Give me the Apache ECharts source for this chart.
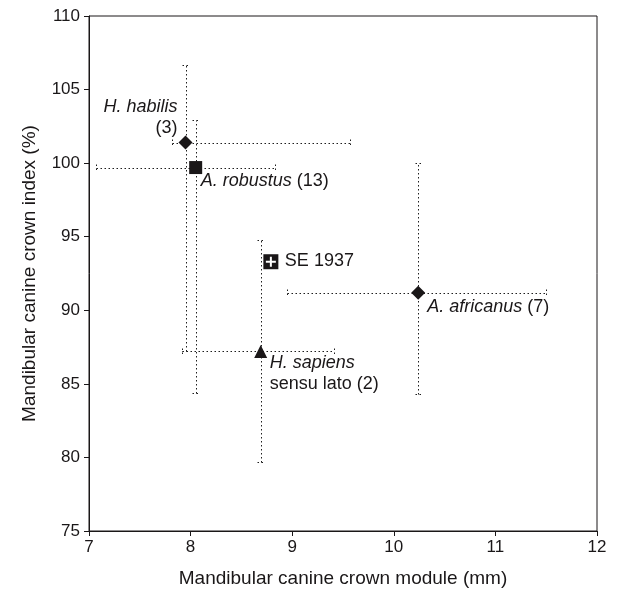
<!DOCTYPE html>
<html>
<head>
<meta charset="utf-8">
<script src="https://cdn.jsdelivr.net/npm/echarts@6/dist/echarts.min.js"></script>
<style>
  html, body { margin: 0; padding: 0; background: #fff; }
  #chart { width: 642px; height: 594px; }
</style>
</head>
<body>
<div id="chart"></div>
<script>
// Mandibular canine crown module vs crown index, per taxon:
// mean point with min–max ranges on both axes.
const taxa        = ['H. habilis', 'A. robustus', 'H. sapiens', 'A. africanus'];
const taxaNote    = ['', '', 'sensu lato ', ''];
const sampleSize  = [3, 13, 2, 7];
const moduleMean  = [7.95, 8.05, 8.69, 10.24];
const moduleMin   = [7.82, 7.07, 7.92, 8.95];
const moduleMax   = [9.57, 8.83, 9.41, 11.50];
const indexMean   = [101.4, 99.7, 87.2, 91.2];
const indexMin    = [87.2, 84.4, 79.7, 84.3];
const indexMax    = [106.7, 102.9, 94.8, 100.0];

// Specimen SE 1937
const specimenName   = 'SE 1937';
const specimenModule = [8.79];
const specimenIndex  = [93.3];

// Axis ticks
const xTicks = { min: 7, max: 12, step: 1 };
const yTicks = { min: 75, max: 110, step: 5 };

const INK = '#1a1718';
const FONT = '"Liberation Sans", Arial, sans-serif';

const symbols = ['diamond', 'rect', 'triangle', 'diamond'];
const symbolSizes = [14, 13, 13, 14];

// label placement relative to each mark
const labelPlace = [
  { align: 'right', offset: [-8, -25], fmt: i => `{i|${taxa[i]}}\n{n|(${sampleSize[i]})}` },
  { align: 'left',  offset: [5, 13],   fmt: i => `{i|${taxa[i]}}{n| (${sampleSize[i]})}` },
  { align: 'left',  offset: [9, 22],   fmt: i => `{i|${taxa[i]}}\n{n|${taxaNote[i]}(${sampleSize[i]})}` },
  { align: 'left',  offset: [9, 14],   fmt: i => `{i|${taxa[i]}}{n| (${sampleSize[i]})}` }
];

const rich = {
  i: { fontStyle: 'italic', fontSize: 18, fontFamily: FONT, color: INK, lineHeight: 21 },
  n: { fontSize: 18, fontFamily: FONT, color: INK, lineHeight: 21 }
};

const rangeData = taxa.map((t, i) => [moduleMean[i], indexMean[i], moduleMin[i], moduleMax[i], indexMin[i], indexMax[i]]);

// dotted segment snapped to the pixel grid
function dotted(x1, y1, x2, y2) {
  const s = v => Math.round(v) + 0.5;
  return {
    type: 'line',
    shape: { x1: s(x1), y1: s(y1), x2: s(x2), y2: s(y2) },
    style: { stroke: '#1e1e1e', lineWidth: 1, lineDash: [1.5, 2.5] }
  };
}

const series = [{
  type: 'custom',
  name: 'ranges',
  z: 1,
  silent: true,
  data: rangeData,
  encode: { x: [0, 2, 3], y: [1, 4, 5] },
  renderItem: function (params, api) {
    const x = api.value(0), y = api.value(1);
    const xl = api.coord([api.value(2), y]);
    const xh = api.coord([api.value(3), y]);
    const yl = api.coord([x, api.value(4)]);
    const yh = api.coord([x, api.value(5)]);
    const cap = 3.5;
    return {
      type: 'group',
      children: [
        dotted(xl[0], xl[1], xh[0], xh[1]),
        dotted(xl[0], xl[1] - cap, xl[0], xl[1] + cap),
        dotted(xh[0], xh[1] - cap, xh[0], xh[1] + cap),
        dotted(yl[0], yl[1], yh[0], yh[1]),
        dotted(yl[0] - cap, yl[1], yl[0] + cap, yl[1]),
        dotted(yh[0] - cap, yh[1], yh[0] + cap, yh[1])
      ]
    };
  }
}];

taxa.forEach((t, i) => {
  const p = labelPlace[i];
  series.push({
    type: 'scatter',
    name: t,
    z: 3,
    symbol: symbols[i],
    symbolSize: symbolSizes[i],
    itemStyle: { color: INK, opacity: 1 },
    emphasis: { disabled: true },
    data: [{
      value: [moduleMean[i], indexMean[i]],
      label: {
        show: true,
        position: 'inside',
        align: p.align,
        verticalAlign: 'middle',
        offset: p.offset,
        color: INK,
        formatter: () => p.fmt(i),
        rich: rich
      }
    }]
  });
});

// SE 1937: black square with a white cross
series.push({
  type: 'scatter',
  name: specimenName,
  z: 3,
  symbol: 'rect',
  symbolSize: 15,
  itemStyle: { color: INK, opacity: 1 },
  emphasis: { disabled: true },
  data: specimenModule.map((m, k) => ({
    value: [m, specimenIndex[k]],
    label: {
      show: true,
      position: 'inside',
      align: 'left',
      verticalAlign: 'middle',
      offset: [14, -1],
      formatter: specimenName,
      fontSize: 18,
      fontFamily: FONT,
      color: INK
    }
  }))
});
series.push({
  type: 'scatter',
  name: specimenName + ' cross',
  z: 4,
  symbol: 'path://M0,4 L10,4 L10,6 L0,6 Z M4,0 L6,0 L6,10 L4,10 Z',
  symbolSize: 10,
  itemStyle: { color: '#fff', opacity: 1 },
  emphasis: { disabled: true },
  data: specimenModule.map((m, k) => [m, specimenIndex[k]])
});

const chart = echarts.init(document.getElementById('chart'), null, { renderer: 'canvas' });
chart.setOption({
  animation: false,
  backgroundColor: '#fff',
  textStyle: { fontFamily: FONT, color: INK },
  grid: {
    left: 89, right: 45, top: 16, bottom: 63,
    show: true, borderColor: INK, borderWidth: 1, backgroundColor: 'transparent'
  },
  xAxis: {
    type: 'value',
    min: xTicks.min, max: xTicks.max, interval: xTicks.step,
    name: 'Mandibular canine crown module (mm)',
    nameLocation: 'middle',
    nameGap: 38,
    nameTextStyle: { fontSize: 19, fontFamily: FONT, color: INK },
    axisLine: { show: true, lineStyle: { color: INK, width: 1 } },
    axisTick: { show: true, inside: false, length: 5, lineStyle: { color: INK } },
    axisLabel: { fontSize: 17, fontFamily: FONT, color: INK, margin: 8 },
    splitLine: { show: false }
  },
  yAxis: {
    type: 'value',
    min: yTicks.min, max: yTicks.max, interval: yTicks.step,
    name: 'Mandibular canine crown index (%)',
    nameLocation: 'middle',
    nameGap: 50,
    nameTextStyle: { fontSize: 19, fontFamily: FONT, color: INK },
    axisLine: { show: true, lineStyle: { color: INK, width: 1 } },
    axisTick: { show: true, inside: false, length: 5, lineStyle: { color: INK } },
    axisLabel: { fontSize: 17, fontFamily: FONT, color: INK, margin: 9 },
    splitLine: { show: false }
  },
  series: series
});
</script>
</body>
</html>
